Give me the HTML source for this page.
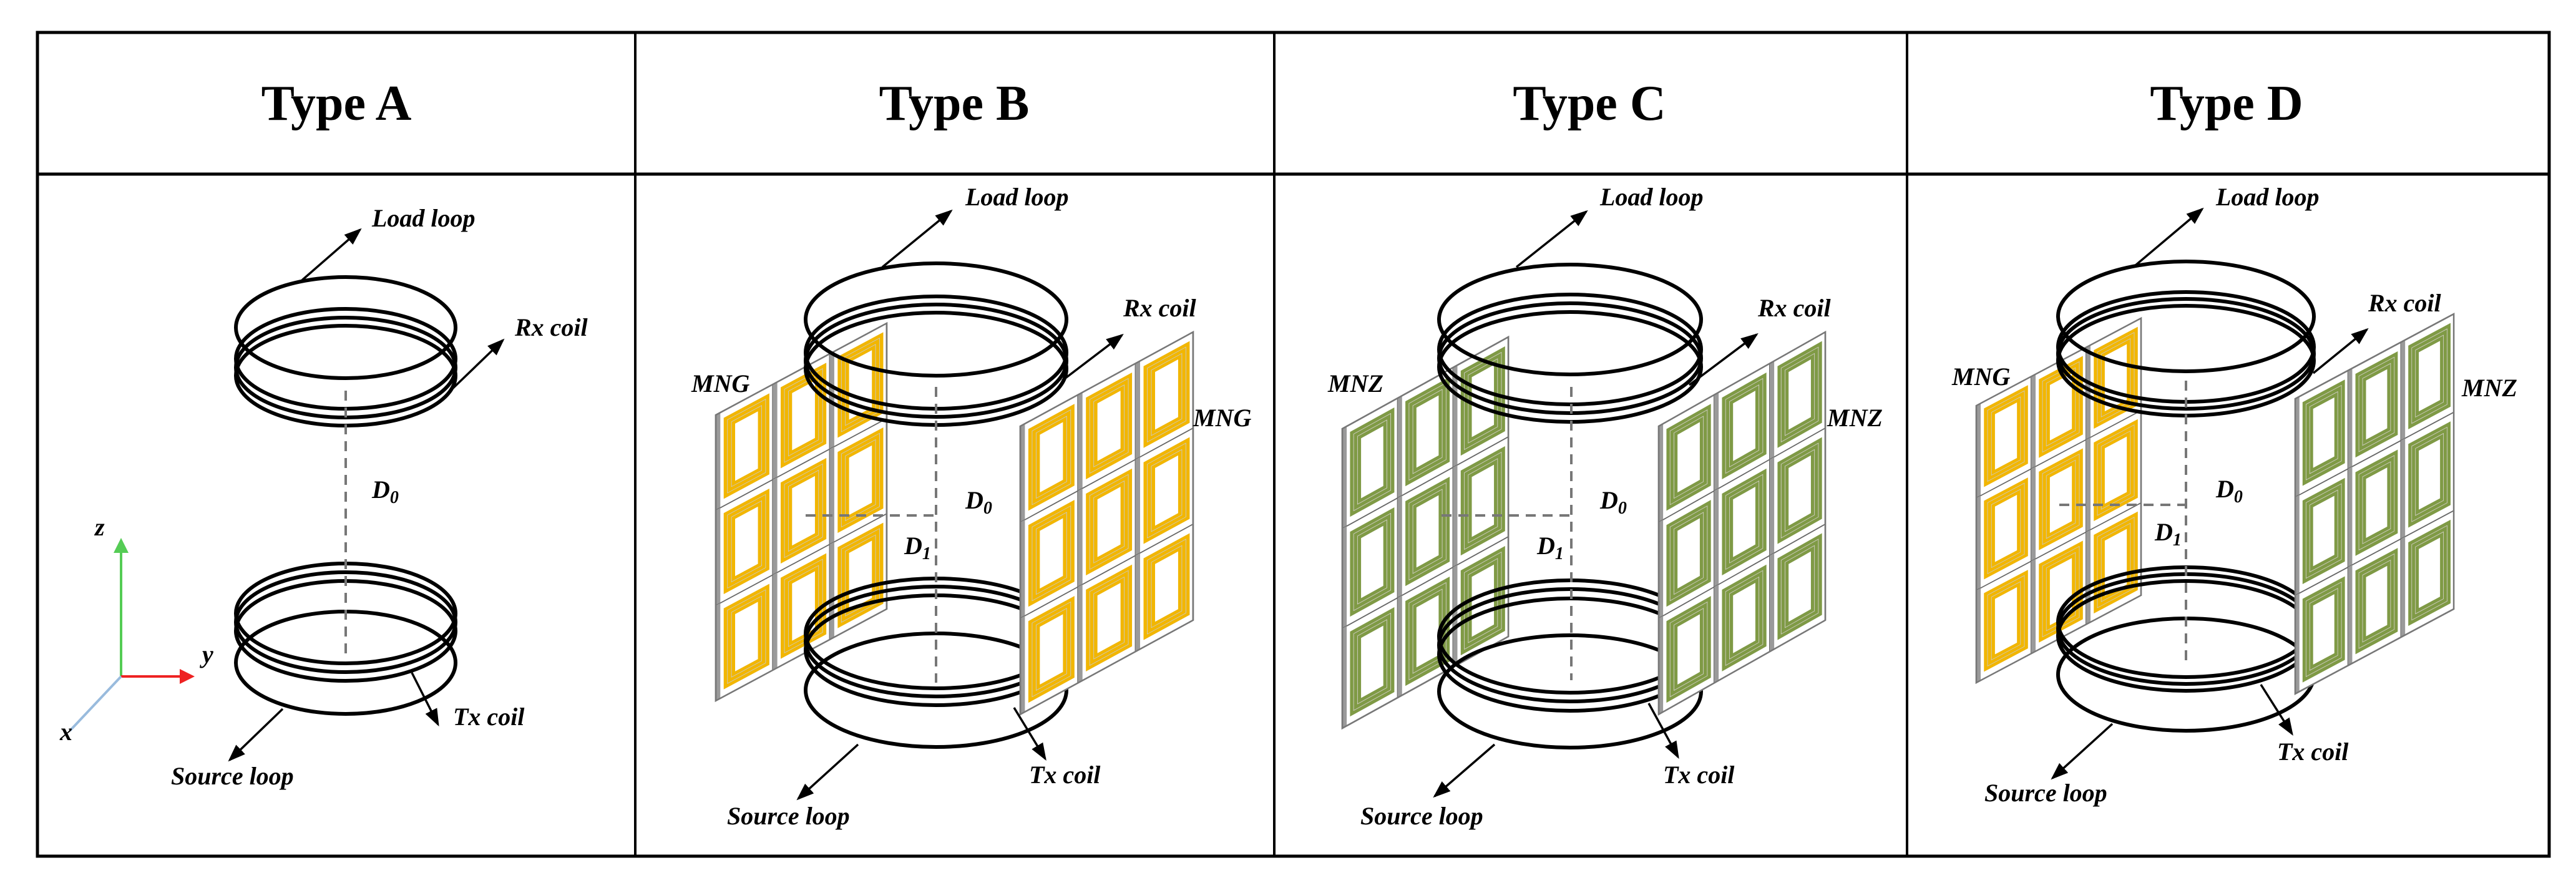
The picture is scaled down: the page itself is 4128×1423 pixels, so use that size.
<!DOCTYPE html>
<html><head><meta charset="utf-8"><style>
html,body{margin:0;padding:0;background:#fff;}
svg{display:block;}
.t{font-family:"Liberation Serif",serif;font-weight:bold;font-size:80px;text-anchor:middle;}
.l{font-family:"Liberation Serif",serif;font-weight:bold;font-style:italic;font-size:40px;}
.r{fill:none;stroke:#000;stroke-width:6;}
.a{stroke:#000;stroke-width:3.5;fill:none;marker-end:url(#ah);}
.d{stroke:#777;stroke-width:4;stroke-dasharray:16 11;fill:none;}
</style></head><body>
<svg width="4128" height="1423" viewBox="0 0 4128 1423" xmlns="http://www.w3.org/2000/svg">
<defs>
<marker id="ah" markerWidth="8" markerHeight="8" refX="7" refY="4" orient="auto" markerUnits="strokeWidth"><path d="M0,1 L8,4 L0,7 Z" fill="#000"/></marker>
<marker id="ahg" markerWidth="6" markerHeight="6" refX="5" refY="3" orient="auto" markerUnits="strokeWidth"><path d="M0,0 L6,3 L0,6 Z" fill="#5c5"/></marker>
<marker id="ahr" markerWidth="6" markerHeight="6" refX="5" refY="3" orient="auto" markerUnits="strokeWidth"><path d="M0,0 L6,3 L0,6 Z" fill="#e22"/></marker>
<g id="cg">
<rect x="0" y="0" width="100" height="160" fill="#fff" stroke="#666" stroke-width="2"/>
<rect x="0" y="0" width="8" height="160" fill="#9a9a9a"/>
<rect x="14" y="12" width="80" height="136" fill="#c9c9c9"/>
<rect x="17" y="15" width="74" height="130" fill="none" stroke="#f2b600" stroke-width="6"/>
<rect x="24" y="22" width="60" height="116" fill="none" stroke="#f2b600" stroke-width="6"/>
<rect x="31" y="29" width="46" height="102" fill="none" stroke="#f2b600" stroke-width="6"/>
<rect x="34" y="32" width="40" height="96" fill="#fff"/>
</g>
<g id="cz">
<rect x="0" y="0" width="100" height="160" fill="#fff" stroke="#666" stroke-width="2"/>
<rect x="0" y="0" width="8" height="160" fill="#9a9a9a"/>
<rect x="14" y="12" width="80" height="136" fill="#d2cfc8"/>
<rect x="17" y="15" width="74" height="130" fill="none" stroke="#7f9a45" stroke-width="6"/>
<rect x="24" y="22" width="60" height="116" fill="none" stroke="#7f9a45" stroke-width="6"/>
<rect x="31" y="29" width="46" height="102" fill="none" stroke="#7f9a45" stroke-width="6"/>
<rect x="34" y="32" width="40" height="96" fill="#fff"/>
</g>
<g id="pg">
<use href="#cg" x="0" y="0"/><use href="#cg" x="100" y="0"/><use href="#cg" x="200" y="0"/>
<use href="#cg" x="0" y="160"/><use href="#cg" x="100" y="160"/><use href="#cg" x="200" y="160"/>
<use href="#cg" x="0" y="320"/><use href="#cg" x="100" y="320"/><use href="#cg" x="200" y="320"/>
<rect x="0" y="0" width="300" height="480" fill="none" stroke="#777" stroke-width="3"/>
</g>
<g id="pz">
<use href="#cz" x="0" y="0"/><use href="#cz" x="100" y="0"/><use href="#cz" x="200" y="0"/>
<use href="#cz" x="0" y="160"/><use href="#cz" x="100" y="160"/><use href="#cz" x="200" y="160"/>
<use href="#cz" x="0" y="320"/><use href="#cz" x="100" y="320"/><use href="#cz" x="200" y="320"/>
<rect x="0" y="0" width="300" height="480" fill="none" stroke="#777" stroke-width="3"/>
</g>
</defs>

<rect x="60" y="52" width="4025" height="1320" fill="none" stroke="#000" stroke-width="5"/>
<line x1="60" y1="279" x2="4085" y2="279" stroke="#000" stroke-width="5"/>
<line x1="1018" y1="52" x2="1018" y2="1372" stroke="#000" stroke-width="4"/>
<line x1="2042" y1="52" x2="2042" y2="1372" stroke="#000" stroke-width="4"/>
<line x1="3056" y1="52" x2="3056" y2="1372" stroke="#000" stroke-width="4"/>
<text class="t" x="539" y="192">Type A</text>
<text class="t" x="1529" y="192">Type B</text>
<text class="t" x="2547" y="192">Type C</text>
<text class="t" x="3568" y="192">Type D</text>

<line x1="194" y1="1084" x2="194" y2="866" stroke="#5c5" stroke-width="4" marker-end="url(#ahg)"/>
<line x1="194" y1="1084" x2="308" y2="1084" stroke="#e22" stroke-width="4" marker-end="url(#ahr)"/>
<line x1="194" y1="1084" x2="112" y2="1171" stroke="#9bd" stroke-width="4"/>
<text class="l" x="152" y="858">z</text>
<text class="l" x="324" y="1062">y</text>
<text class="l" x="96" y="1186">x</text>
<ellipse class="r" cx="554" cy="525" rx="176" ry="81"/>
<ellipse class="r" cx="554" cy="575" rx="176" ry="80"/>
<ellipse class="r" cx="554" cy="589" rx="176" ry="80"/>
<ellipse class="r" cx="554" cy="602" rx="176" ry="80"/>
<ellipse class="r" cx="554" cy="983" rx="176" ry="80"/>
<ellipse class="r" cx="554" cy="997" rx="176" ry="80"/>
<ellipse class="r" cx="554" cy="1011" rx="176" ry="80"/>
<ellipse class="r" cx="554" cy="1062" rx="176" ry="82"/>
<line class="d" x1="554" y1="626" x2="554" y2="1048"/>
<line class="a" x1="484" y1="449" x2="577" y2="368"/>
<line class="a" x1="726" y1="622" x2="806" y2="545"/>
<line class="a" x1="660" y1="1078" x2="702" y2="1161"/>
<line class="a" x1="453" y1="1136" x2="368" y2="1218"/>
<text class="l" x="596" y="363">Load loop</text>
<text class="l" x="825" y="538">Rx coil</text>
<text class="l" x="596" y="798">D<tspan font-size="28" dy="8">0</tspan></text>
<text class="l" x="726" y="1162">Tx coil</text>
<text class="l" x="274" y="1257">Source loop</text>

<use href="#pg" transform="matrix(0.913,-0.49,0,0.954,1147,665)"/>
<ellipse class="r" cx="1500" cy="512" rx="209" ry="90"/>
<ellipse class="r" cx="1500" cy="565" rx="209" ry="90"/>
<ellipse class="r" cx="1500" cy="578" rx="209" ry="90"/>
<ellipse class="r" cx="1500" cy="591" rx="209" ry="90"/>
<ellipse class="r" cx="1500" cy="1015" rx="209" ry="88"/>
<ellipse class="r" cx="1500" cy="1028" rx="209" ry="88"/>
<ellipse class="r" cx="1500" cy="1042" rx="209" ry="88"/>
<ellipse class="r" cx="1500" cy="1106" rx="209" ry="91"/>
<use href="#pg" transform="matrix(0.923,-0.503,0,0.962,1635,683)"/>
<line class="d" x1="1500" y1="620" x2="1500" y2="1094"/>
<line class="d" x1="1291" y1="826" x2="1500" y2="826"/>
<line class="a" x1="1414" y1="428" x2="1524" y2="338"/>
<line class="a" x1="1702" y1="610" x2="1798" y2="537"/>
<line class="a" x1="1625" y1="1134" x2="1675" y2="1216"/>
<line class="a" x1="1375" y1="1193" x2="1279" y2="1280"/>
<text class="l" x="1547" y="329">Load loop</text>
<text class="l" x="1800" y="507">Rx coil</text>
<text class="l" x="1108" y="628">MNG</text>
<text class="l" x="1912" y="683">MNG</text>
<text class="l" x="1547" y="815">D<tspan font-size="28" dy="8">0</tspan></text>
<text class="l" x="1449" y="888">D<tspan font-size="28" dy="8">1</tspan></text>
<text class="l" x="1649" y="1255">Tx coil</text>
<text class="l" x="1165" y="1321">Source loop</text>

<use href="#pz" transform="matrix(0.887,-0.49,0,1.0,2151,687)"/>
<ellipse class="r" cx="2516" cy="512" rx="210" ry="88"/>
<ellipse class="r" cx="2516" cy="560" rx="210" ry="88"/>
<ellipse class="r" cx="2516" cy="574" rx="210" ry="88"/>
<ellipse class="r" cx="2516" cy="588" rx="210" ry="88"/>
<ellipse class="r" cx="2516" cy="1020" rx="210" ry="90"/>
<ellipse class="r" cx="2516" cy="1034" rx="210" ry="90"/>
<ellipse class="r" cx="2516" cy="1049" rx="210" ry="90"/>
<ellipse class="r" cx="2516" cy="1108" rx="210" ry="90"/>
<use href="#pz" transform="matrix(0.89,-0.503,0,0.962,2658,683)"/>
<line class="d" x1="2518" y1="620" x2="2518" y2="1090"/>
<line class="d" x1="2310" y1="826" x2="2518" y2="826"/>
<line class="a" x1="2430" y1="428" x2="2542" y2="339"/>
<line class="a" x1="2707" y1="617" x2="2815" y2="536"/>
<line class="a" x1="2642" y1="1127" x2="2689" y2="1213"/>
<line class="a" x1="2395" y1="1193" x2="2299" y2="1276"/>
<text class="l" x="2564" y="329">Load loop</text>
<text class="l" x="2817" y="507">Rx coil</text>
<text class="l" x="2128" y="628">MNZ</text>
<text class="l" x="2928" y="683">MNZ</text>
<text class="l" x="2564" y="815">D<tspan font-size="28" dy="8">0</tspan></text>
<text class="l" x="2463" y="888">D<tspan font-size="28" dy="8">1</tspan></text>
<text class="l" x="2665" y="1255">Tx coil</text>
<text class="l" x="2180" y="1321">Source loop</text>

<use href="#pg" transform="matrix(0.88,-0.467,0,0.925,3167,650)"/>
<ellipse class="r" cx="3503" cy="507" rx="205" ry="88"/>
<ellipse class="r" cx="3503" cy="556" rx="205" ry="88"/>
<ellipse class="r" cx="3503" cy="567" rx="205" ry="88"/>
<ellipse class="r" cx="3503" cy="578" rx="205" ry="88"/>
<ellipse class="r" cx="3503" cy="997" rx="205" ry="88"/>
<ellipse class="r" cx="3503" cy="1008" rx="205" ry="88"/>
<ellipse class="r" cx="3503" cy="1019" rx="205" ry="88"/>
<ellipse class="r" cx="3503" cy="1081" rx="205" ry="90"/>
<use href="#pz" transform="matrix(0.847,-0.453,0,0.985,3678,639)"/>
<line class="d" x1="3503" y1="610" x2="3503" y2="1064"/>
<line class="d" x1="3300" y1="809" x2="3503" y2="809"/>
<line class="a" x1="3421" y1="426" x2="3529" y2="335"/>
<line class="a" x1="3707" y1="598" x2="3793" y2="528"/>
<line class="a" x1="3623" y1="1097" x2="3673" y2="1176"/>
<line class="a" x1="3385" y1="1160" x2="3289" y2="1247"/>
<text class="l" x="3551" y="329">Load loop</text>
<text class="l" x="3795" y="499">Rx coil</text>
<text class="l" x="3128" y="617">MNG</text>
<text class="l" x="3945" y="635">MNZ</text>
<text class="l" x="3551" y="797">D<tspan font-size="28" dy="8">0</tspan></text>
<text class="l" x="3453" y="866">D<tspan font-size="28" dy="8">1</tspan></text>
<text class="l" x="3649" y="1218">Tx coil</text>
<text class="l" x="3180" y="1284">Source loop</text>
</svg>
</body></html>
